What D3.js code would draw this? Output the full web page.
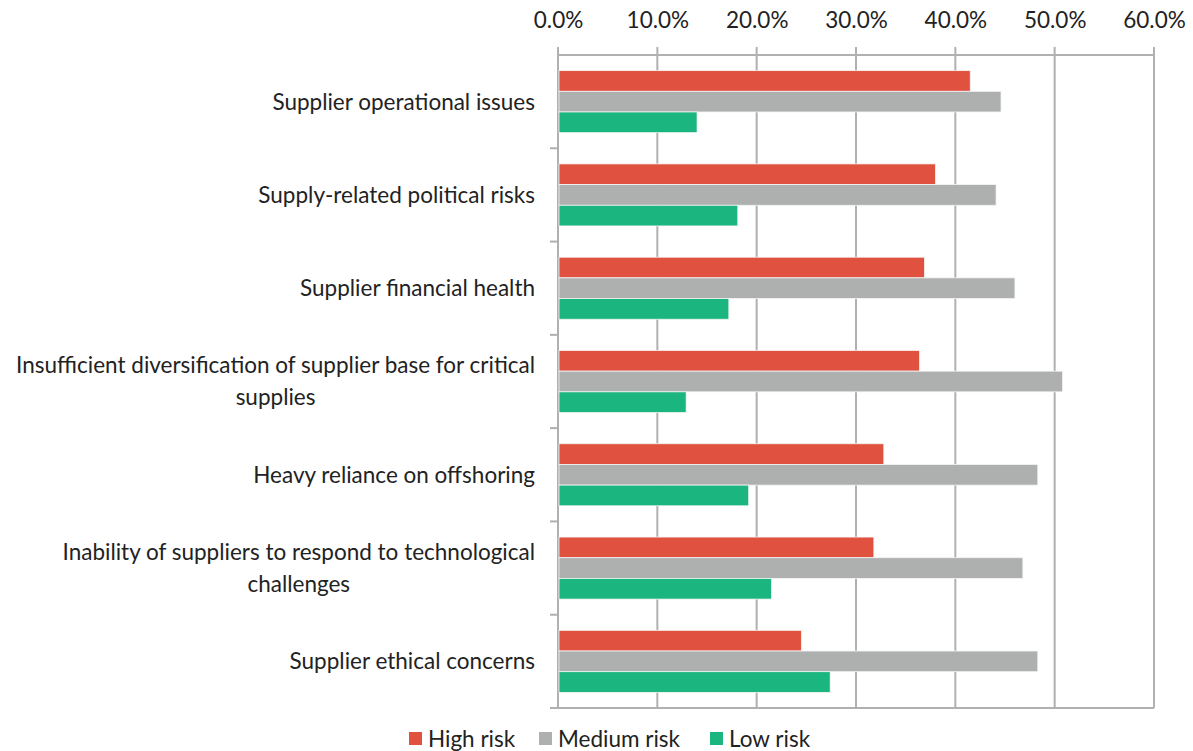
<!DOCTYPE html>
<head>
  <meta charset="utf-8">
  <script src="https://d3js.org/d3.v7.min.js"></script>
  <style>
    body { margin:0; background:#fff; }
    svg text { font-family: Lato, "Open Sans", sans-serif; fill:#222; }
  </style>
</head>
<body>
  <div class="bar-chart"></div>
  <script>
    const categories = [
      'Supplier operational issues',
      'Supply-related political risks',
      'Supplier financial health',
      'Insufficient diversification of supplier base for critical supplies',
      'Heavy reliance on offshoring',
      'Inability of suppliers to respond to technological challenges',
      'Supplier ethical concerns'
    ];
    const seriesNames = ['High risk', 'Medium risk', 'Low risk'];
    const highRisk   = [0.415, 0.380, 0.369, 0.364, 0.328, 0.318, 0.245];
    const mediumRisk = [0.446, 0.441, 0.460, 0.508, 0.483, 0.468, 0.483];
    const lowRisk    = [0.140, 0.181, 0.172, 0.129, 0.192, 0.215, 0.274];
    const xTicks = [0, 0.1, 0.2, 0.3, 0.4, 0.5, 0.6];
    const colors = ['#e1513f', '#aeb0b0', '#1bb57f'];

    const width = 1193, height = 751;
    const plot = { left: 558, right: 1154, top: 55, bottom: 708 };
    const fontSize = '22.5px';

    const rows = categories.map((c, i) => ({
      category: c,
      values: [highRisk[i], mediumRisk[i], lowRisk[i]]
    }));

    const svg = d3.select('.bar-chart')
      .append('svg')
        .attr('width', width)
        .attr('height', height);

    const xScale = d3.scaleLinear()
      .domain([0, 0.6])
      .range([plot.left, plot.right]);

    const yScale = d3.scaleBand()
      .domain(categories)
      .range([plot.top, plot.bottom])
      .paddingInner(0.335)
      .paddingOuter(0.1675);

    const ySub = d3.scaleBand()
      .domain(seriesNames)
      .range([0, yScale.bandwidth()]);

    const gridColor = '#b0b0b0';

    // vertical gridlines
    svg.append('g')
      .selectAll('line')
      .data(xTicks)
      .join('line')
        .attr('x1', d => xScale(d))
        .attr('x2', d => xScale(d))
        .attr('y1', plot.top - 8)
        .attr('y2', plot.bottom)
        .attr('stroke', gridColor)
        .attr('stroke-width', 2);

    // top axis labels
    const xAxis = svg.append('g')
      .attr('transform', `translate(0,${plot.top - 8})`)
      .call(d3.axisTop(xScale).tickValues(xTicks).tickFormat(d3.format('.1%')).tickSize(0).tickPadding(19));
    xAxis.select('.domain').remove();
    xAxis.selectAll('text')
      .style('font-size', fontSize)
      .attr('fill', '#222');

    svg.append('line')
      .attr('x1', plot.left).attr('x2', plot.right)
      .attr('y1', plot.top).attr('y2', plot.top)
      .attr('stroke', gridColor).attr('stroke-width', 2);

    // category axis, ticks at band boundaries
    const step = yScale.step();
    const bounds = d3.range(1, categories.length + 1).map(i => plot.top + i * step);
    svg.append('g')
      .selectAll('line')
      .data(bounds)
      .join('line')
        .attr('x1', plot.left - 8)
        .attr('x2', (d, i) => i === categories.length - 1 ? plot.right : plot.left)
        .attr('y1', d => d)
        .attr('y2', d => d)
        .attr('stroke', gridColor)
        .attr('stroke-width', 2);
    svg.append('line')
      .attr('x1', plot.left).attr('x2', plot.left)
      .attr('y1', plot.top).attr('y2', plot.bottom)
      .attr('stroke', gridColor).attr('stroke-width', 2);

    // bars
    const groups = svg.append('g')
      .selectAll('g')
      .data(rows)
      .join('g')
        .attr('transform', d => `translate(0,${yScale(d.category)})`);

    groups.selectAll('rect')
      .data(d => d.values.map((v, i) => ({ name: seriesNames[i], value: v, i: i })))
      .join('rect')
        .attr('x', xScale(0) + 1)
        .attr('y', d => ySub(d.name))
        .attr('width', d => xScale(d.value) - xScale(0) - 1)
        .attr('height', ySub.bandwidth())
        .attr('fill', d => colors[d.i])
        .attr('stroke', '#f4f4f4')
        .attr('stroke-width', 0.8);

    // category labels: wrapped, lines centred, block right aligned
    const labelRight = 535;
    const maxLabelWidth = 530;
    const labels = svg.append('g');
    rows.forEach(r => {
      const t = labels.append('text')
        .style('font-size', fontSize);
      const words = r.category.split(' ');
      let lines = [], line = [];
      words.forEach(w => {
        line.push(w);
        t.text(line.join(' '));
        if (t.node().getComputedTextLength() > maxLabelWidth && line.length > 1) {
          line.pop();
          lines.push(line.join(' '));
          line = [w];
        }
      });
      lines.push(line.join(' '));
      const widths = lines.map(l => { t.text(l); return t.node().getComputedTextLength(); });
      t.text(null);
      const blockW = d3.max(widths);
      const multi = lines.length > 1;
      const cx = multi ? labelRight - blockW / 2 : labelRight;
      const lh = 32;
      const cy = yScale(r.category) + yScale.bandwidth() / 2;
      const y0 = cy - (lines.length - 1) * lh / 2;
      t.attr('text-anchor', multi ? 'middle' : 'end');
      lines.forEach((l, i) => {
        t.append('tspan')
          .attr('x', cx)
          .attr('y', y0 + i * lh)
          .attr('dy', '0.35em')
          .text(l);
      });
    });

    // legend
    const legendX = [409, 539, 710];
    const legend = svg.append('g')
      .selectAll('g')
      .data(seriesNames)
      .join('g')
        .attr('transform', (d, i) => `translate(${legendX[i]},732)`);
    legend.append('rect')
      .attr('width', 13).attr('height', 13)
      .attr('fill', (d, i) => colors[i]);
    legend.append('text')
      .attr('x', 19)
      .attr('y', 7)
      .attr('dy', '0.35em')
      .style('font-size', fontSize)
      .text(d => d);
  </script>
</body>
